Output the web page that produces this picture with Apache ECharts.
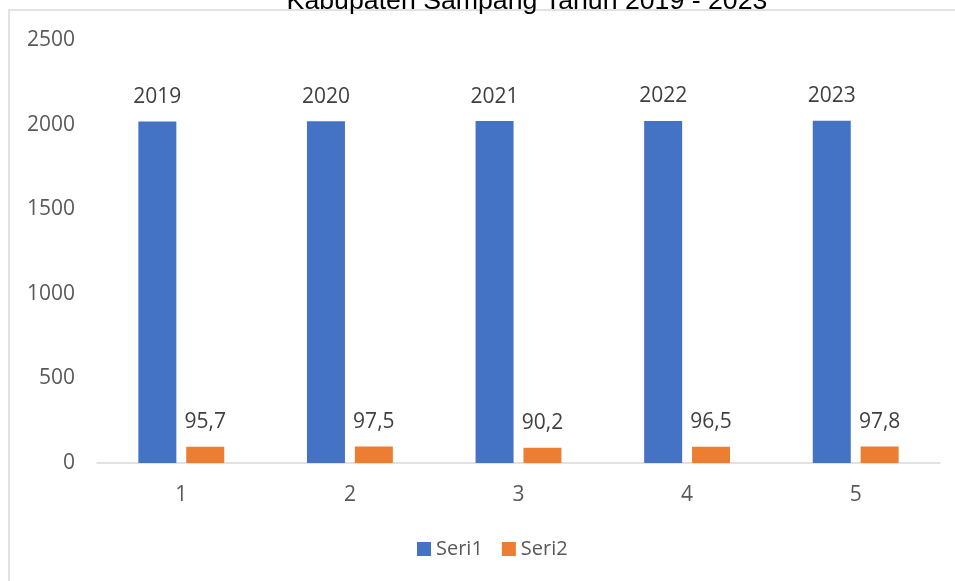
<!DOCTYPE html>
<html>
<head>
<meta charset="utf-8">
<script src="https://cdn.jsdelivr.net/npm/echarts@6/dist/echarts.min.js"></script>
<style>
    html, body { margin: 0; padding: 0; background: #fff; }
    #chart { width: 955px; height: 581px; }
</style>
</head>
<body>
<div id="chart"></div>
<script>
    // data
    var categories = ['1', '2', '3', '4', '5'];
    var seri1 = [2019, 2020, 2021, 2022, 2023];
    var seri2 = [95.7, 97.5, 90.2, 96.5, 97.8];
    var yTicks = [0, 500, 1000, 1500, 2000, 2500];

    var chart = echarts.init(document.getElementById('chart'));
    var labelFont = 'Open Sans';

    var option = {
        animation: false,
        title: {
            text: 'Kabupaten Sampang Tahun 2019 - 2023',
            left: 522,
            textAlign: 'center',
            top: -17,
            textStyle: {
                fontFamily: 'Liberation Sans',
                fontWeight: 'normal',
                fontSize: 26.7,
                color: '#000'
            }
        },
        graphic: [{
            type: 'rect',
            shape: { x: 9, y: 10, width: 1000, height: 700 },
            style: { fill: 'none', stroke: '#d9d9d9', lineWidth: 1.5 },
            silent: true
        }],
        legend: {
            data: ['Seri1', 'Seri2'],
            left: 412,
            top: 534,
            itemWidth: 14,
            itemHeight: 14,
            itemGap: 19,
            icon: 'rect',
            textStyle: { fontFamily: labelFont, fontSize: 20, color: '#595959' }
        },
        grid: { left: 97, right: 15, top: 40, bottom: 118 },
        xAxis: {
            type: 'category',
            data: categories,
            axisLine: { lineStyle: { color: '#d9d9d9', width: 1.5 } },
            axisTick: { show: false },
            axisLabel: { margin: 22, fontFamily: labelFont, fontSize: 21, color: '#595959' }
        },
        yAxis: {
            type: 'value',
            min: yTicks[0],
            max: yTicks[yTicks.length - 1],
            interval: 500,
            axisLine: { show: false },
            axisTick: { show: false },
            splitLine: { show: false },
            axisLabel: {
                margin: 22,
                fontFamily: labelFont,
                fontSize: 21,
                color: '#595959',
                formatter: function (v) { return String(v); }
            }
        },
        series: [{
            name: 'Seri1',
            type: 'bar',
            data: seri1,
            barWidth: 38,
            barGap: '26%',
            itemStyle: { color: '#4472c4' },
            label: {
                show: true,
                position: 'top',
                distance: 14,
                fontFamily: labelFont,
                fontSize: 21,
                color: '#404040'
            }
        }, {
            name: 'Seri2',
            type: 'bar',
            data: seri2,
            barWidth: 38,
            itemStyle: { color: '#ed7d31' },
            label: {
                show: true,
                position: 'top',
                distance: 14,
                fontFamily: labelFont,
                fontSize: 21,
                color: '#404040',
                formatter: function (p) { return String(p.value).replace('.', ','); }
            }
        }]
    };
    chart.setOption(option);
</script>
</body>
</html>
